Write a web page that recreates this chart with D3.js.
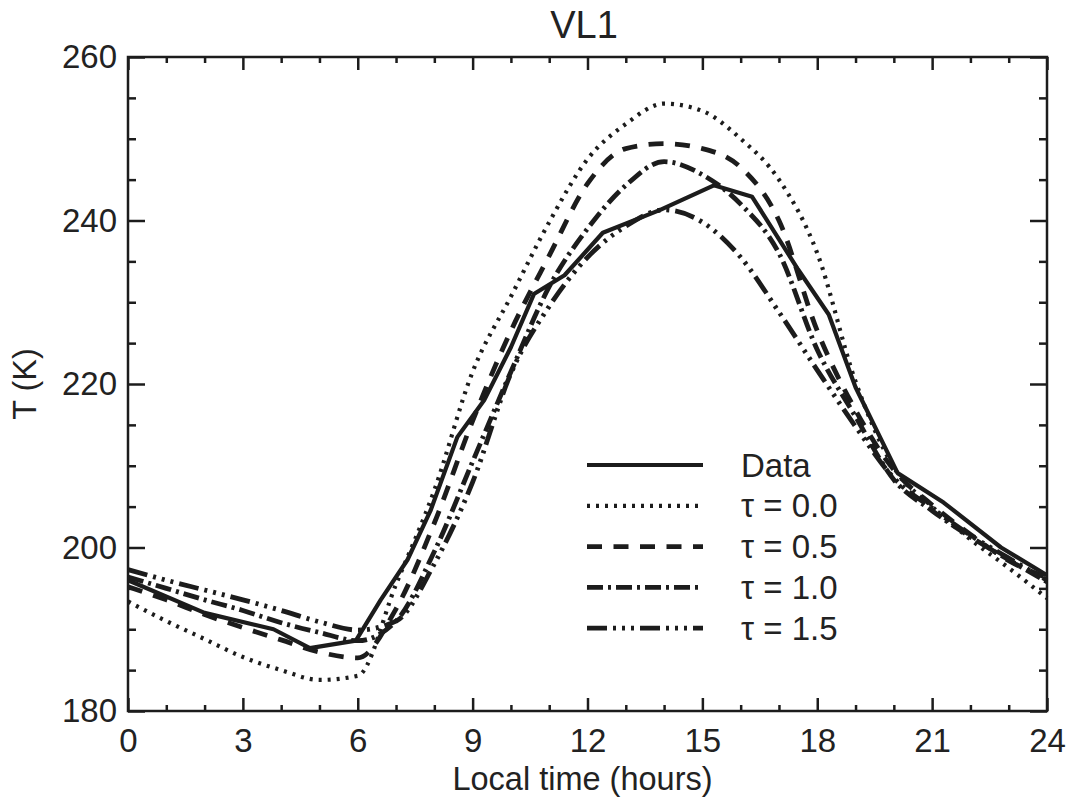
<!DOCTYPE html>
<html>
<head>
<meta charset="utf-8">
<script src="https://cdn.jsdelivr.net/npm/d3@7"></script>
<style>
  body { margin: 0; background: #fff; }
  text { font-family: "Liberation Sans", Arial, Helvetica, sans-serif; fill: #222; }
</style>
</head>
<body>
<div class="chart"></div>
<script>
// ---- data ----
const modelHours = [0, 1, 2, 3, 4, 5, 6, 7, 8, 9, 10, 11, 12, 13, 14, 15, 16, 17, 18, 19, 20, 21, 22, 23, 24];

const tau00 = [193.4, 191.0, 188.8, 186.6, 185.0, 183.8, 184.3, 195.5, 207.0, 221.5, 230.7, 239.8, 247.5, 251.8, 254.3, 253.4, 250.0, 245.0, 236.0, 220.3, 209.8, 205.0, 201.0, 197.5, 193.8];
const tau05 = [195.2, 193.6, 191.8, 190.2, 188.7, 187.2, 186.5, 192.5, 203.0, 215.5, 226.5, 235.7, 244.5, 248.8, 249.4, 248.8, 246.5, 240.0, 226.5, 216.8, 209.5, 205.2, 201.6, 198.4, 196.3];
const tau10 = [196.4, 195.0, 193.6, 192.3, 190.8, 189.6, 188.6, 191.0, 199.5, 210.5, 221.5, 231.9, 239.0, 244.3, 247.2, 245.6, 242.0, 236.0, 224.2, 216.0, 208.3, 204.5, 201.3, 198.5, 195.8];
const tau15 = [197.3, 196.0, 194.8, 193.6, 192.3, 190.9, 189.9, 191.0, 198.0, 208.0, 221.3, 229.5, 235.5, 239.3, 241.3, 239.8, 235.5, 228.8, 221.7, 214.8, 208.5, 204.8, 201.5, 198.7, 196.0];

const dataHours = [0.0, 2.0, 3.8, 4.75, 5.95, 6.6, 7.3, 7.9, 8.6, 9.3, 10.0, 10.6, 11.4, 12.4, 13.9, 15.3, 16.3, 17.5, 18.3, 19.0, 20.1, 21.3, 22.8, 24.0];
const dataTemp  = [196.0, 192.0, 190.0, 187.7, 188.6, 193.6, 198.5, 204.5, 213.5, 218.0, 224.5, 231.0, 233.3, 238.5, 241.3, 244.3, 242.9, 234.0, 228.5, 219.6, 209.1, 205.5, 200.0, 196.6];

const xMajorTicks = [0, 3, 6, 9, 12, 15, 18, 21, 24];
const xMinorTicks = [1, 2, 4, 5, 7, 8, 10, 11, 13, 14, 16, 17, 19, 20, 22, 23];
const yMajorTicks = [180, 200, 220, 240, 260];
const yMinorTicks = [185, 190, 195, 205, 210, 215, 225, 230, 235, 245, 250, 255];

const seriesNames = ["Data", "τ = 0.0", "τ = 0.5", "τ = 1.0", "τ = 1.5"];

// ---- layout ----
const outerW = 1077, outerH = 800;
const margin = { left: 128, right: 30, top: 57, bottom: 89 };
const w = outerW - margin.left - margin.right,
  h = outerH - margin.top - margin.bottom;

const x = d3.scaleLinear().domain([0, 24]).range([0, w]);
const y = d3.scaleLinear().domain([180, 260]).range([h, 0]);

const ink = "#1c1c1c";
const fontSize = 33;

// line styles, IDL-like
const styles = [
  { dash: null, width: 4.2 },
  { dash: "3,6", width: 4.2 },
  { dash: "15,11.5", width: 4.8 },
  { dash: "16,5,3,5", width: 4.8 },
  { dash: "20,6,3,6,3,6,3,6", width: 4.8 }
];

const series = [
  { name: seriesNames[0], xs: dataHours, ys: dataTemp, curve: d3.curveLinear },
  { name: seriesNames[1], xs: modelHours, ys: tau00, curve: d3.curveMonotoneX },
  { name: seriesNames[2], xs: modelHours, ys: tau05, curve: d3.curveMonotoneX },
  { name: seriesNames[3], xs: modelHours, ys: tau10, curve: d3.curveMonotoneX },
  { name: seriesNames[4], xs: modelHours, ys: tau15, curve: d3.curveMonotoneX }
];

const svg = d3.select(".chart").append("svg")
  .attr("width", outerW)
  .attr("height", outerH);

const g = svg.append("g")
  .attr("transform", `translate(${margin.left}, ${margin.top})`);

// title
svg.append("text")
  .attr("x", 584)
  .attr("y", 38)
  .attr("text-anchor", "middle")
  .style("font-size", "38px")
  .text("VL1");

// axes, ticks pointing inwards on all four sides
function styleAxis(sel) {
  sel.select(".domain").remove();
  sel.selectAll("line").attr("stroke", ink).attr("stroke-width", 2.5);
  sel.selectAll("text").style("font-size", fontSize + "px").attr("fill", "#222");
}

g.append("g")
  .attr("transform", `translate(0, ${h})`)
  .call(d3.axisBottom(x).tickValues(xMajorTicks).tickSize(-13).tickPadding(18).tickFormat(d3.format("d")))
  .call(styleAxis);
g.append("g")
  .attr("transform", `translate(0, ${h})`)
  .call(d3.axisBottom(x).tickValues(xMinorTicks).tickSize(-6).tickFormat(""))
  .call(styleAxis);
g.append("g")
  .call(d3.axisTop(x).tickValues(xMajorTicks).tickSize(-13).tickFormat(""))
  .call(styleAxis);
g.append("g")
  .call(d3.axisTop(x).tickValues(xMinorTicks).tickSize(-6).tickFormat(""))
  .call(styleAxis);

g.append("g")
  .call(d3.axisLeft(y).tickValues(yMajorTicks).tickSize(-17).tickPadding(11).tickFormat(d3.format("d")))
  .call(styleAxis);
g.append("g")
  .call(d3.axisLeft(y).tickValues(yMinorTicks).tickSize(-8).tickFormat(""))
  .call(styleAxis);
g.append("g")
  .attr("transform", `translate(${w}, 0)`)
  .call(d3.axisRight(y).tickValues(yMajorTicks).tickSize(-17).tickFormat(""))
  .call(styleAxis);
g.append("g")
  .attr("transform", `translate(${w}, 0)`)
  .call(d3.axisRight(y).tickValues(yMinorTicks).tickSize(-8).tickFormat(""))
  .call(styleAxis);

g.append("rect")
  .attr("width", w)
  .attr("height", h)
  .attr("fill", "none")
  .attr("stroke", ink)
  .attr("stroke-width", 2.5);

// axis titles
svg.append("text")
  .attr("x", margin.left + w / 2 - 5)
  .attr("y", 790)
  .attr("text-anchor", "middle")
  .style("font-size", "32.5px")
  .text("Local time (hours)");

svg.append("text")
  .attr("transform", `translate(36, ${margin.top + h / 2}) rotate(-90)`)
  .attr("text-anchor", "middle")
  .style("font-size", "32.5px")
  .text("T (K)");

// curves
const lines = g.append("g")
  .attr("fill", "none")
  .attr("stroke", ink);

series.forEach((s, i) => {
  const pts = s.xs.map((v, j) => [v, s.ys[j]]);
  const line = d3.line()
    .x(d => x(d[0]))
    .y(d => y(d[1]))
    .curve(s.curve);
  lines.append("path")
    .datum(pts)
    .attr("d", line)
    .attr("stroke-width", styles[i].width)
    .attr("stroke-linejoin", "round")
    .attr("stroke-dasharray", styles[i].dash);
});

// legend (top-left of first swatch at ~587, 465 on the page)
const legend = g.append("g")
  .attr("transform", `translate(459, 408)`);

const legendRow = 40.8;
series.forEach((s, i) => {
  const row = legend.append("g").attr("transform", `translate(0, ${i * legendRow})`);
  row.append("line")
    .attr("x1", 0)
    .attr("x2", 116)
    .attr("stroke", ink)
    .attr("stroke-width", styles[i].width)
    .attr("stroke-dasharray", styles[i].dash);
  row.append("text")
    .attr("x", 154)
    .attr("dy", "0.35em")
    .style("font-size", fontSize + "px")
    .text(s.name);
});
</script>
</body>
</html>
